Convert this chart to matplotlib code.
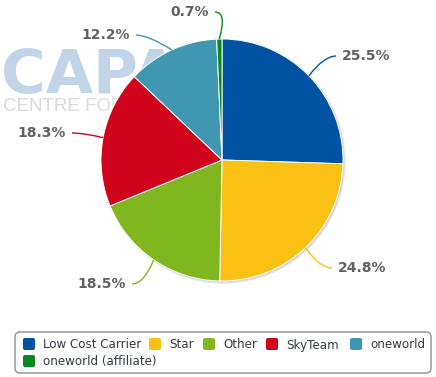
import matplotlib
matplotlib.use("Agg")
import matplotlib.pyplot as plt
from matplotlib.patches import FancyBboxPatch, Circle
from matplotlib.path import Path
from matplotlib.patches import PathPatch
import numpy as np

categories = ["Low Cost Carrier", "Star", "Other", "SkyTeam", "oneworld", "oneworld (affiliate)"]
values = [25.5, 24.8, 18.5, 18.3, 12.2, 0.7]
labels = ["25.5%", "24.8%", "18.5%", "18.3%", "12.2%", "0.7%"]
colors = ["#0053A3", "#FAC013", "#80B61E", "#D0031B", "#4097B2", "#0B8720"]

W, H = 436, 377
fig = plt.figure(figsize=(W / 100, H / 100), dpi=100)
ax = fig.add_axes([0, 0, 1, 1])

def py(y):
    return H - y

# watermark
ax.text(1, py(93), "CAPA", fontsize=44, fontweight="bold", color="#C2D5E8",
        family="DejaVu Sans", ha="left", va="baseline", zorder=0)
ax.text(3, py(111), "CENTRE FOR AVIATION", fontsize=13.5, color="#DADADA",
        family="Liberation Sans", ha="left", va="baseline", zorder=0)

cx, cy, r = 222, py(160), 121

# shadow
for i, a in enumerate([0.05, 0.05, 0.06]):
    ax.add_patch(Circle((cx + 1.5, cy - 1.5), r + 1.5 - i * 0.7, color="black",
                        alpha=a, lw=0, zorder=1))

wedges, _ = ax.pie(values, colors=colors, startangle=90, counterclock=False,
                   center=(cx, cy), radius=r,
                   wedgeprops=dict(edgecolor="white", linewidth=0.7, zorder=2))
for w in wedges:
    w.set_zorder(2)

# label anchor positions (layout, pixels from top-left)
anchors = [(336, 56, "left"), (332, 268, "left"), (132, 284, "right"),
           (72, 133, "right"), (136, 35, "right"), (215, 12, "right")]

cum = np.cumsum([0] + values)
total = sum(values)
for i, (v, lab) in enumerate(zip(values, labels)):
    mid = (cum[i] + v / 2) / total * 2 * np.pi
    ex = cx + r * np.sin(mid)
    ey = cy + r * np.cos(mid)
    axp, ayp, ha = anchors[i]
    ax_, ay_ = axp, py(ayp)
    sgn = 1 if ha == "left" else -1
    ctrl = (ax_ - sgn * 12, ay_)
    path = Path([(ex, ey), ctrl, (ax_, ay_)], [Path.MOVETO, Path.CURVE3, Path.CURVE3])
    ax.add_patch(PathPatch(path, fc="none", ec=colors[i], lw=1, zorder=3))
    tx = ax_ + sgn * 6
    ax.text(tx, ay_, lab, fontsize=10, fontweight="bold", color="#606060",
            ha=ha, va="center", zorder=4)

# legend
ax.add_patch(FancyBboxPatch((15, py(373)), 416, 41,
                            boxstyle="round,pad=0,rounding_size=5",
                            fc="white", ec="#909090", lw=1, zorder=5))
leg_pos = [(23, 344), (149, 344), (203, 344), (266, 344), (350, 344), (23, 361)]
for i, (name, (lx, ly)) in enumerate(zip(categories, leg_pos)):
    ax.add_patch(FancyBboxPatch((lx, py(ly) - 6), 12, 12,
                                boxstyle="round,pad=0,rounding_size=2",
                                fc=colors[i], ec="none", zorder=6))
    ax.text(lx + 20, py(ly + 4.5), name, fontsize=8.6, color="#333A44",
            ha="left", va="baseline", zorder=6)

ax.set_xlim(0, W)
ax.set_ylim(0, H)
ax.set_aspect("auto")
ax.axis("off")
fig.savefig("out.png", dpi=100)
